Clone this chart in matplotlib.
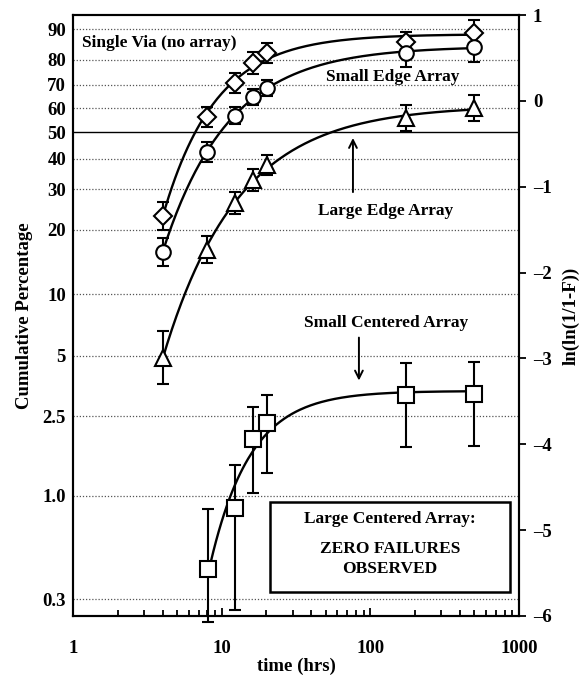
import numpy as np
import matplotlib
matplotlib.use("Agg")
import matplotlib.pyplot as plt
from matplotlib.patches import Rectangle

# ---------------- data ----------------
t_main = [4, 8, 12.3, 16.2, 20.2, 173, 497]          # hours
single_via_pct = [23.0, 56.4, 70.8, 78.9, 82.6, 86.3, 89.0]
small_edge_pct = [15.8, 42.4, 56.8, 64.9, 68.7, 82.6, 84.6]
large_edge_pct = [4.9, 16.2, 26.2, 32.8, 37.8, 55.9, 60.0]
# error half-widths in ln(ln(1/(1-F))) units
single_via_err = [0.16, 0.12, 0.12, 0.13, 0.12, 0.12, 0.15]
small_edge_err = [0.16, 0.12, 0.10, 0.09, 0.09, 0.16, 0.17]
large_edge_err = [0.31, 0.16, 0.13, 0.13, 0.12, 0.15, 0.15]

t_sc = [8.1, 12.3, 16.2, 20.2, 173, 497]
small_centered_pct = [0.43, 0.87, 1.93, 2.32, 3.21, 3.24]
small_centered_err_up = [0.69, 0.50, 0.37, 0.33, 0.37, 0.37]
small_centered_err_dn = [0.62, 1.19, 0.63, 0.58, 0.61, 0.61]

pct_ticks = [90, 80, 70, 60, 50, 40, 30, 20, 10, 5, 2.5, 1.0, 0.3]
pct_labels = ["90", "80", "70", "60", "50", "40", "30", "20", "10", "5", "2.5", "1.0", "0.3"]
w_ticks = [1, 0, -1, -2, -3, -4, -5, -6]
x_ticks = [1, 10, 100, 1000]
x_labels = ["1", "10", "100", "1000"]


def weib(p):
    p = np.asarray(p, dtype=float) / 100.0
    return np.log(-np.log(1.0 - p))


def fit_curve(t, w):
    t = np.asarray(t, float)
    w = np.asarray(w, float)
    best = None
    for k in np.linspace(0.2, 3.0, 281):
        M = np.column_stack([np.ones_like(t), -t ** (-k)])
        coef, res, *_ = np.linalg.lstsq(M, w, rcond=None)
        r = np.sum((M @ coef - w) ** 2)
        if best is None or r < best[0]:
            best = (r, k, coef)
    _, k, (A, B) = best
    tt = np.logspace(np.log10(t.min()), np.log10(t.max()), 200)
    return tt, A - B * tt ** (-k)


serif = "Liberation Serif"
plt.rcParams["font.family"] = serif
plt.rcParams["font.weight"] = "bold"

fig = plt.figure(figsize=(5.79, 6.81), dpi=100)
ax = fig.add_axes([73 / 579, 1 - 616 / 681, 446 / 579, 601 / 681])
ax.set_xscale("log")
ax.set_xlim(1, 1000)
ax.set_ylim(-6, 1)

# grid lines at percentage positions
for p in pct_ticks:
    y = weib(p)
    if p == 50:
        ax.axhline(y, color="black", lw=1.0, zorder=1)
    else:
        ax.axhline(y, color="#555555", lw=0.9, ls=(0, (1, 1.5)), zorder=1)

series = [
    (t_main, single_via_pct, single_via_err, single_via_err, "D", 9),
    (t_main, small_edge_pct, small_edge_err, small_edge_err, "o", 10.5),
    (t_main, large_edge_pct, large_edge_err, large_edge_err, "^", 11),
    (t_sc, small_centered_pct, small_centered_err_dn, small_centered_err_up, "s", 11),
]
for t, pct, edn, eup, mk, ms in series:
    w = weib(pct)
    tt, ww = fit_curve(t, w)
    ax.plot(tt, ww, color="black", lw=1.7, zorder=2)
    ax.errorbar(t, w, yerr=[edn, eup], fmt="none", ecolor="black",
                elinewidth=1.5, capsize=4.5, capthick=1.5, zorder=3, clip_on=False)
    ax.plot(t, w, ls="none", marker=mk, ms=ms, mfc="white", mec="black",
            mew=1.5, zorder=4)

# axes styling
for s in ax.spines.values():
    s.set_linewidth(1.5)
ax.set_xticks(x_ticks)
ax.set_xticklabels(x_labels)
ax.tick_params(axis="x", which="major", direction="in", length=6, width=1.3,
               pad=17, labelsize=13.5)
ax.tick_params(axis="x", which="minor", direction="in", length=4, width=1.3)
ax.set_yticks(weib(pct_ticks))
ax.set_yticklabels(pct_labels)
ax.tick_params(axis="y", length=0, pad=5, labelsize=13.5)
ax.set_xlabel("time (hrs)", fontsize=13.5, fontweight="bold", labelpad=1)
ax.set_ylabel("Cumulative Percentage", fontsize=13.5, fontweight="bold", labelpad=7)

ax2 = ax.twinx()
ax2.set_ylim(-6, 1)
ax2.set_yticks(w_ticks)
ax2.set_yticklabels([str(v).replace("-", "\u2013") if v < 0 else str(v) for v in w_ticks])
ax2.tick_params(axis="y", direction="out", length=5, width=1.3, pad=5, labelsize=13.5)
ax2.set_ylabel("ln(ln(1/1-F))", fontsize=13.5, fontweight="bold", labelpad=8)
for s in ax2.spines.values():
    s.set_linewidth(1.5)

# annotations
tk = dict(fontsize=12.5, fontweight="bold", family=serif)
ax.text(1.15, 0.674, "Single Via (no array)", ha="left", va="center", **tk)
ax.text(142, 0.278, "Small Edge Array", ha="center", va="center", **tk)
ax.text(127, -1.282, "Large Edge Array", ha="center", va="center", **tk)
ax.annotate("", xy=(76.4, -0.40), xytext=(76.4, -1.095),
            arrowprops=dict(arrowstyle="->", lw=1.4, color="black",
                            mutation_scale=14))
ax.text(127, -2.586, "Small Centered Array", ha="center", va="center", **tk)
ax.annotate("", xy=(83.8, -3.29), xytext=(83.8, -2.725),
            arrowprops=dict(arrowstyle="->", lw=1.4, color="black",
                            mutation_scale=14))

ax.add_patch(Rectangle((0.4417, 0.040), 0.980 - 0.4417, 0.150,
                       transform=ax.transAxes, fill=False, lw=1.8,
                       ec="black", zorder=5))
ax.text(0.711, 0.161, "Large Centered Array:", transform=ax.transAxes,
        ha="center", va="center", **tk)
ax.text(0.711, 0.111, "ZERO FAILURES", transform=ax.transAxes,
        ha="center", va="center", **tk)
ax.text(0.711, 0.078, "OBSERVED", transform=ax.transAxes,
        ha="center", va="center", **tk)

fig.savefig("out.png", dpi=100)
